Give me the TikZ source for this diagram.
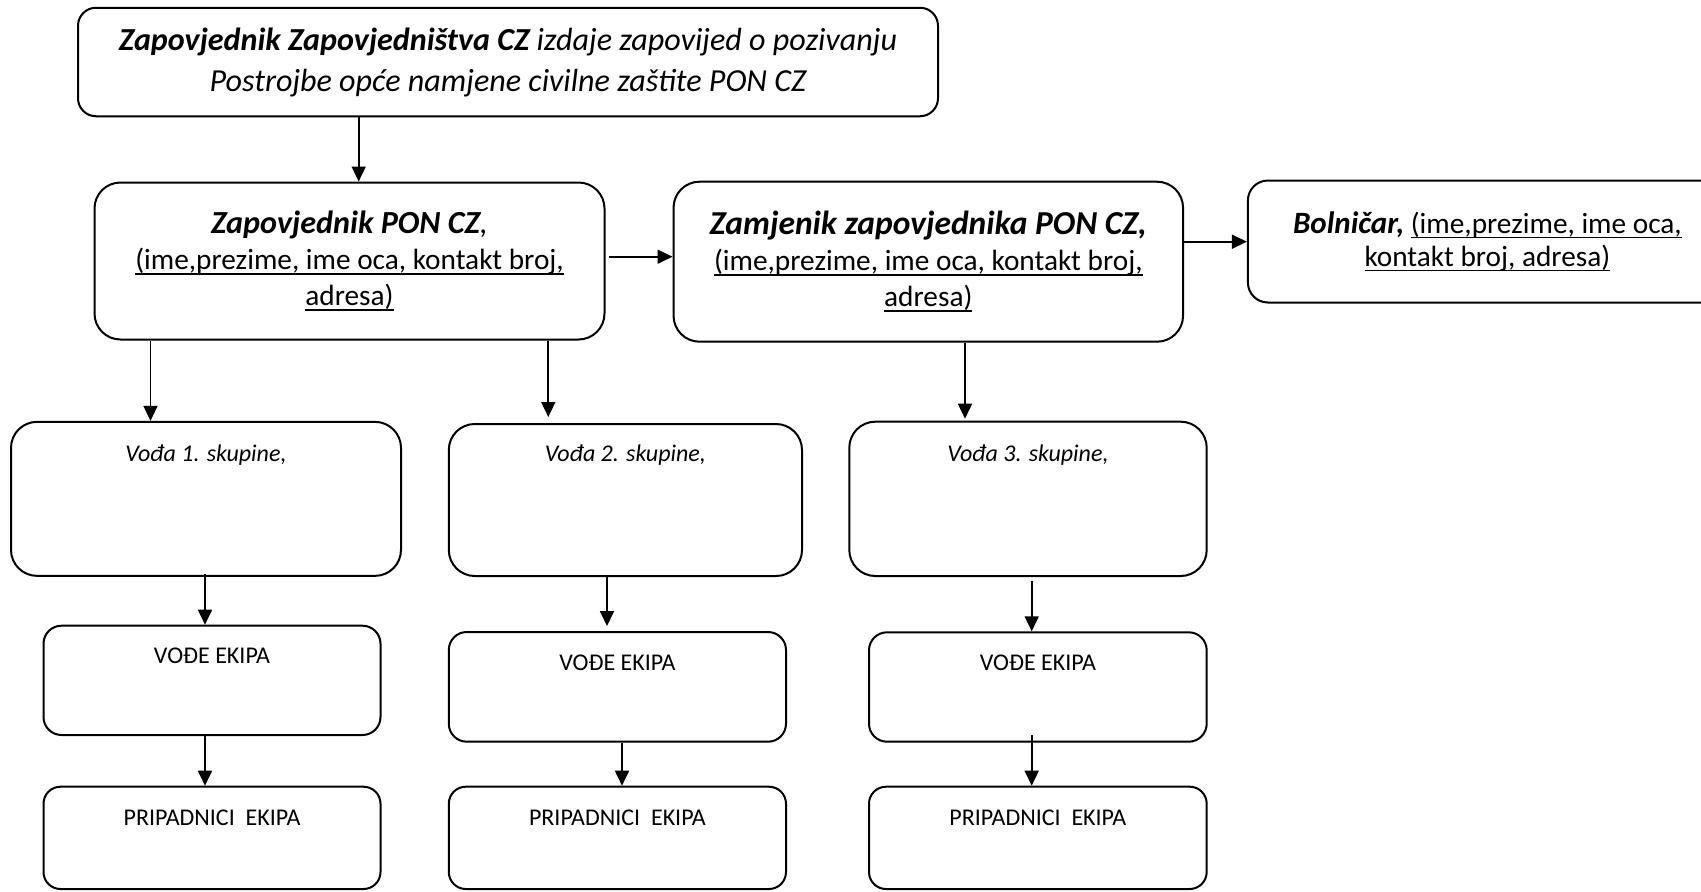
\documentclass[tikz,border=0pt]{standalone}
\usepackage{fontspec}
\setmainfont{Carlito}
\usetikzlibrary{arrows.meta}
\newsavebox\ulbox
\newcommand\myul[1]{\sbox\ulbox{#1}\rlap{\rule[-5pt]{\wd\ulbox}{1.8pt}}\usebox\ulbox}
\begin{document}
\begin{tikzpicture}[x=1pt,y=-1pt,
  box/.style={draw, line width=2pt, rounded corners=#1, inner sep=0pt},
  box/.default=20pt,
  bigtxt/.style={font=\fontsize{29.3pt}{36pt}\selectfont, align=center},
  smalltxt/.style={font=\fontsize{24pt}{29pt}\selectfont},
  arr/.style={line width=1.8pt, -{Triangle[length=15pt,width=14pt]}}]
\useasboundingbox (0,0) rectangle (1701,892);

% top row
\node[box=18pt, minimum width=860pt, minimum height=108.5pt,
      font=\fontsize{32.1pt}{41pt}\selectfont\itshape, align=center] (top) at (508,62)
  {\textbf{Zapovjednik Zapovjedništva CZ} izdaje zapovijed o pozivanju\\
   Postrojbe opće namjene civilne zaštite PON CZ};

% second row
\node[box=26pt, minimum width=510pt, minimum height=157pt, bigtxt] (zap) at (349.5,261)
  {{\fontsize{32.2pt}{36pt}\selectfont\itshape\textbf{Zapovjednik PON CZ},}\\
   \myul{(ime,prezime, ime oca, kontakt broj,}\\
   \myul{adresa)}};
\node[box=26pt, minimum width=509.5pt, minimum height=160pt, bigtxt] (zam) at (928.3,261.7)
  {{\fontsize{33.5pt}{36pt}\selectfont\itshape\bfseries Zamjenik zapovjednika PON CZ,}\\
   \myul{(ime,prezime, ime oca, kontakt broj,}\\
   \myul{adresa)}};
\node[box=20pt, minimum width=479pt, minimum height=122pt, bigtxt,
      font=\fontsize{29.3pt}{33pt}\selectfont] (bol) at (1487.4,241.5)
  {{\fontsize{31pt}{33pt}\selectfont\itshape\bfseries Bolničar,} \myul{(ime,prezime, ime oca,}\\
   \myul{kontakt broj, adresa)}};

% group leaders
\node[box=26pt, minimum width=390pt, text height=40pt, text depth=114pt, smalltxt] (v1) at (206,498.85)
  {\textit{Vođa 1. skupine,}};
\node[box=26pt, minimum width=353.2pt, text height=37.7pt, text depth=114.3pt, smalltxt] (v2) at (625.4,500)
  {\textit{Vođa 2. skupine,}};
\node[box=26pt, minimum width=357.4pt, text height=40pt, text depth=114.3pt, smalltxt] (v3) at (1028,498.85)
  {\textit{Vođa 3. skupine,}};

% team leaders
\node[box=18pt, minimum width=337pt, text height=37.3pt, text depth=72pt, smalltxt] (e1) at (212,680.35)
  {VOĐE EKIPA};
\node[box=18pt, minimum width=337.2pt, text height=38.7pt, text depth=71pt, smalltxt] (e2) at (617.4,686.85)
  {VOĐE EKIPA};
\node[box=18pt, minimum width=337.7pt, text height=38.4pt, text depth=71pt, smalltxt] (e3) at (1037.85,687)
  {VOĐE EKIPA};

% team members
\node[box=17pt, minimum width=337pt, text height=38.3pt, text depth=64pt, smalltxt] (p1) at (212,837.85)
  {PRIPADNICI\ \ EKIPA};
\node[box=17pt, minimum width=337.2pt, text height=38.3pt, text depth=64pt, smalltxt] (p2) at (617.4,837.85)
  {PRIPADNICI\ \ EKIPA};
\node[box=17pt, minimum width=337.7pt, text height=38.3pt, text depth=64pt, smalltxt] (p3) at (1037.85,837.85)
  {PRIPADNICI\ \ EKIPA};

% connector guide coordinates
\coordinate (xa) at (358.7,0);
\coordinate (xb) at (150.5,0);
\coordinate (xc) at (548.3,0);
\coordinate (xd) at (965,0);
\coordinate (xe) at (205,0);
\coordinate (xf) at (607,0);
\coordinate (xg) at (1031.7,0);
\coordinate (xh) at (622,0);
\coordinate (ya) at (0,256.7);
\coordinate (yb) at (0,241.7);

% connectors
\draw[arr] (top.south -| xa) -- (zap.north -| xa);
\draw[arr, shorten <=3.5pt] (zap.east |- ya) -- (zam.west |- ya);
\draw[arr] (zam.east |- yb) -- (bol.west |- yb);
\draw[arr] (zap.south -| xb) -- (v1.north -| xb);
\draw[arr, shorten >=6pt] (zap.south -| xc) -- (v2.north -| xc);
\draw[arr, shorten >=2pt] (zam.south -| xd) -- (v3.north -| xd);
\draw[arr, shorten <=-3pt] (v1.south -| xe) -- (e1.north -| xe);
\draw[arr, shorten >=5pt] (v2.south -| xf) -- (e2.north -| xf);
\draw[arr, shorten <=4pt] (v3.south -| xg) -- (e3.north -| xg);
\draw[arr] (e1.south -| xe) -- (p1.north -| xe);
\draw[arr] (e2.south -| xh) -- (p2.north -| xh);
\draw[arr, shorten <=-7.7pt] (e3.south -| xg) -- (p3.north -| xg);
\end{tikzpicture}
\end{document}
